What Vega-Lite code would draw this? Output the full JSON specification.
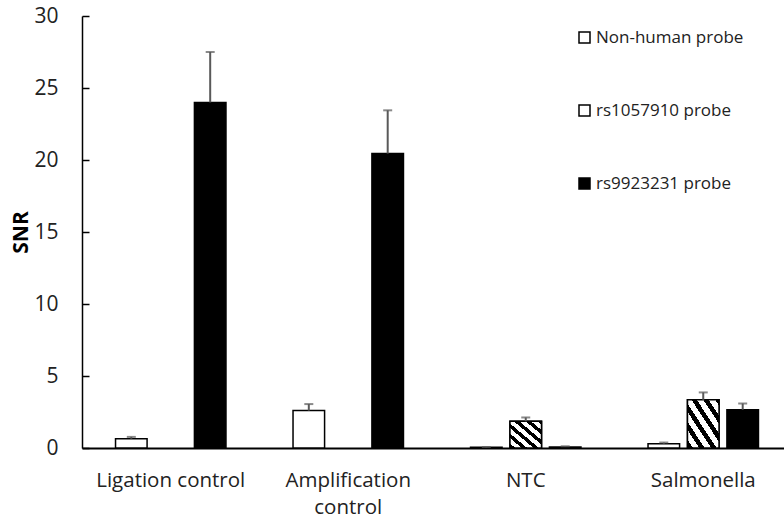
{
  "$schema": "https://vega.github.io/schema/vega-lite/v6.json",
  "width": 702,
  "height": 432,
  "autosize": {"type": "none"},
  "padding": {"left": 82, "top": 16, "right": 0, "bottom": 70},
  "background": "white",
  "config": {"view": {"stroke": null}, "font": "Open Sans"},
  "data": {
    "values": [
      {"sample": "Ligation control", "probe": "Non-human probe", "snr": 0.65, "upper": 0.77},
      {"sample": "Ligation control", "probe": "rs9923231 probe", "snr": 24.0, "upper": 27.5},
      {"sample": "Amplification control", "probe": "Non-human probe", "snr": 2.6, "upper": 3.05},
      {"sample": "Amplification control", "probe": "rs9923231 probe", "snr": 20.45, "upper": 23.45},
      {"sample": "NTC", "probe": "Non-human probe", "snr": 0.05, "upper": 0.07},
      {"sample": "NTC", "probe": "rs1057910 probe", "snr": 1.85, "upper": 2.12},
      {"sample": "NTC", "probe": "rs9923231 probe", "snr": 0.07, "upper": 0.12},
      {"sample": "Salmonella", "probe": "Non-human probe", "snr": 0.3, "upper": 0.38},
      {"sample": "Salmonella", "probe": "rs1057910 probe", "snr": 3.35, "upper": 3.86},
      {"sample": "Salmonella", "probe": "rs9923231 probe", "snr": 2.66, "upper": 3.09}
    ]
  },
  "encoding": {
    "x": {
      "field": "sample",
      "type": "nominal",
      "sort": ["Ligation control", "Amplification control", "NTC", "Salmonella"],
      "scale": {"range": [0, 710], "paddingInner": 0, "paddingOuter": 0},
      "axis": {
        "title": null,
        "ticks": false,
        "domainColor": "black",
        "domainWidth": 2,
        "labelAngle": 0,
        "labelFontSize": 20.5,
        "labelColor": "#222222",
        "labelPadding": 22,
        "labelLineHeight": 27,
        "labelExpr": "datum.label == 'Amplification control' ? ['Amplification', 'control'] : datum.label"
      }
    },
    "xOffset": {
      "field": "probe",
      "type": "nominal",
      "scale": {
        "domain": ["Non-human probe", "rs1057910 probe", "rs9923231 probe"],
        "paddingInner": 0.2,
        "paddingOuter": 0.85
      }
    }
  },
  "layer": [
    {
      "mark": {"type": "bar", "stroke": "black", "strokeWidth": 1.5},
      "encoding": {
        "y": {
          "field": "snr",
          "type": "quantitative",
          "scale": {"domain": [0, 30], "nice": false},
          "axis": {
            "title": "SNR",
            "titleFontSize": 21,
            "titleFontWeight": "bold",
            "titleColor": "black",
            "titlePadding": 2,
            "values": [0, 5, 10, 15, 20, 25, 30],
            "grid": false,
            "domainColor": "black",
            "domainWidth": 1.5,
            "tickColor": "black",
            "tickWidth": 1.5,
            "tickSize": -7,
            "labelPadding": 31,
            "labelFontSize": 21,
            "labelColor": "#222222"
          }
        },
        "fill": {
          "field": "probe",
          "type": "nominal",
          "scale": {
            "domain": ["Non-human probe", "rs1057910 probe", "rs9923231 probe"],
            "range": ["white", "white", "black"]
          },
          "legend": {
            "title": null,
            "orient": "none",
            "legendX": 494,
            "legendY": 13,
            "padding": 0,
            "symbolType": "square",
            "symbolSize": 121,
            "symbolStrokeColor": "black",
            "symbolStrokeWidth": 1.5,
            "labelFontSize": 17,
            "labelColor": "#222222",
            "labelOffset": 3,
            "rowPadding": 55,
            "encode": {
              "symbols": {
                "update": {
                  "stroke": {"value": "black"},
                  "strokeWidth": {"value": 1.5},
                  "fill": {
                    "signal": "datum.value === 'rs1057910 probe' ? {gradient: 'linear', x1: 0, y1: 1, x2: 1, y2: 0, stops: [{offset: 0, color: 'black'}, {offset: 0.38, color: 'black'}, {offset: 0.38, color: 'white'}, {offset: 0.56, color: 'white'}, {offset: 0.56, color: 'black'}, {offset: 1, color: 'black'}]} : (datum.value === 'rs9923231 probe' ? 'black' : 'white')"
                  }
                }
              }
            }
          }
        }
      }
    },
    {
      "transform": [{"filter": "datum.probe == 'rs1057910 probe'"}],
      "mark": {
        "type": "bar",
        "stroke": "black",
        "strokeWidth": 1.5,
        "fill": {
          "gradient": "linear",
          "x1": 0, "y1": 1, "x2": 1, "y2": 0,
          "stops": [
            {"offset": 0, "color": "black"},
            {"offset": 0.085, "color": "black"},
            {"offset": 0.085, "color": "white"},
            {"offset": 0.1875, "color": "white"},
            {"offset": 0.1875, "color": "black"},
            {"offset": 0.2725, "color": "black"},
            {"offset": 0.2725, "color": "white"},
            {"offset": 0.375, "color": "white"},
            {"offset": 0.375, "color": "black"},
            {"offset": 0.46, "color": "black"},
            {"offset": 0.46, "color": "white"},
            {"offset": 0.5625, "color": "white"},
            {"offset": 0.5625, "color": "black"},
            {"offset": 0.6475, "color": "black"},
            {"offset": 0.6475, "color": "white"},
            {"offset": 0.75, "color": "white"},
            {"offset": 0.75, "color": "black"},
            {"offset": 0.835, "color": "black"},
            {"offset": 0.835, "color": "white"},
            {"offset": 0.9375, "color": "white"},
            {"offset": 0.9375, "color": "black"},
            {"offset": 1, "color": "black"}
          ]
        }
      },
      "encoding": {
        "y": {"field": "snr", "type": "quantitative"}
      }
    },
    {
      "mark": {"type": "rule", "color": "#595959", "strokeWidth": 2},
      "encoding": {
        "y": {"field": "snr", "type": "quantitative"},
        "y2": {"field": "upper"}
      }
    },
    {
      "mark": {"type": "tick", "color": "#595959", "thickness": 2, "size": 9},
      "encoding": {
        "y": {"field": "upper", "type": "quantitative"}
      }
    }
  ]
}
